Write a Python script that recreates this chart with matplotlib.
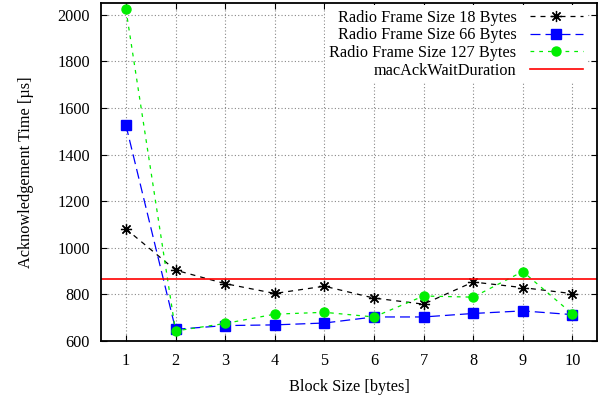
import matplotlib
matplotlib.use("Agg")
import matplotlib.pyplot as plt

# Werte
block_size = [1, 2, 3, 4, 5, 6, 7, 8, 9, 10]
frame_18 = [1081, 904, 846, 804, 835, 784, 758, 853, 829, 803]
frame_66 = [1526, 650, 666, 669, 677, 703, 703, 718, 729, 713]
frame_127 = [2023, 643, 675, 715, 723, 703, 793, 788, 898, 716]
mac_ack_wait = 864

plt.rcParams['font.family'] = ['Liberation Serif', 'DejaVu Serif']
plt.rcParams['font.size'] = 11.7

fig = plt.figure(figsize=(6.02, 3.96), dpi=100)
ax = fig.add_axes([0.168, 0.139, 0.824, 0.853])

ax.plot(block_size, frame_18, color='black', lw=0.9, ls=(0, (4, 4)),
        marker=(8, 2, 0), ms=8, mew=0.9, label='Radio Frame Size 18 Bytes')
ax.plot(block_size, frame_66, color='blue', lw=0.9, ls=(0, (8, 4)),
        marker='s', ms=7, label='Radio Frame Size 66 Bytes')
ax.plot(block_size, frame_127, color='#00ee00', lw=0.9, ls=(0, (3, 4)),
        marker='o', ms=6.5, label='Radio Frame Size 127 Bytes')
ax.axhline(mac_ack_wait, color='red', lw=1.2, label='macAckWaitDuration')

ax.set_xlim(0.5, 10.5)
ax.set_ylim(600, 2050)
ax.set_xticks(block_size)
ax.set_yticks(range(600, 2001, 200))
ax.tick_params(direction='in', top=True, right=True, length=4, width=0.8)
ax.tick_params(axis='x', pad=9)
ax.tick_params(axis='y', pad=8)
ax.grid(True, color='#888888', ls=(0, (1, 2)), lw=0.8)
ax.set_axisbelow(True)
for s in ax.spines.values():
    s.set_linewidth(1.3)

ax.set_xlabel('Block Size [bytes]', labelpad=7)
ax.set_ylabel('Acknowledgement Time [µs]', labelpad=17)

leg = ax.legend(loc='upper right', bbox_to_anchor=(0.985, 1.0), markerfirst=False,
                frameon=True, fancybox=False, edgecolor='none', framealpha=1,
                handlelength=3.3, labelspacing=0.1, borderaxespad=0.1,
                handletextpad=0.8, borderpad=0.3)

fig.savefig('out.png', dpi=100)
